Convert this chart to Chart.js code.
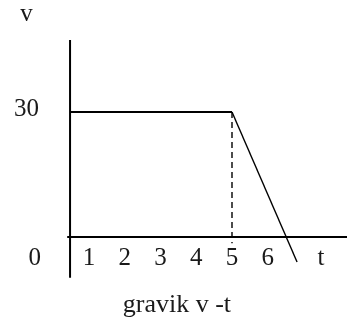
<!DOCTYPE html>
<html>
<head>
<meta charset="utf-8">
<script src="https://cdn.jsdelivr.net/npm/chart.js@4/dist/chart.umd.min.js"></script>
<style>
    html, body { margin: 0; padding: 0; background: #fff; }
    #wrap { width: 347px; height: 320px; position: relative; }
</style>
</head>
<body>
<div id="wrap"><canvas id="chart"></canvas></div>
<script>
// v-t graph: constant 30 until t=5, then decelerates through zero
const speedTimes = [0.47, 5, 6.82];
const speedValues = [30, 30, -6];

// dashed drop line at t = 5
const dropTimes = [5, 5];
const dropValues = [30, -1.5];

// the drawn axes (the vertical one sits a bit right of t = 0 in the sketch)
const yAxisTimes = [0.47, 0.47];
const yAxisValues = [47.3, -9.8];
const xAxisTimes = [0.39, 8.3];
const xAxisValues = [0, 0];

const xTickValues = [1, 2, 3, 4, 5, 6];
const xTickLabels = ['1', '2', '3', '4', '5', '6'];
const yTickValues = [30];
const yTickLabels = ['30'];

const originLabel = '0';
const xAxisLabel = 't';
const yAxisLabel = 'v';
const caption = 'gravik v -t';

function toPoints(xs, ys) {
    return xs.map((x, i) => ({ x: x, y: ys[i] }));
}

const FONT = "25px 'Liberation Serif', 'DejaVu Serif', serif";

const textPlugin = {
    id: 'sketchText',
    afterDraw(chart) {
        const ctx = chart.ctx;
        const xs = chart.scales.x;
        const ys = chart.scales.y;
        const rowY = ys.getPixelForValue(0) + 21;

        ctx.save();
        ctx.fillStyle = '#1a1a1a';
        ctx.font = FONT;
        ctx.textAlign = 'center';
        ctx.textBaseline = 'middle';

        xTickValues.forEach((t, i) => {
            ctx.fillText(xTickLabels[i], xs.getPixelForValue(t), rowY);
        });
        yTickValues.forEach((v, i) => {
            ctx.fillText(yTickLabels[i], xs.getPixelForValue(-0.75), ys.getPixelForValue(v) - 3);
        });

        ctx.fillText(originLabel, xs.getPixelForValue(-0.52), rowY);
        ctx.fillText(xAxisLabel, xs.getPixelForValue(7.49), rowY);
        ctx.fillText(yAxisLabel, xs.getPixelForValue(-0.75), ys.getPixelForValue(53.5));

        ctx.font = "26px 'Liberation Serif', 'DejaVu Serif', serif";
        ctx.fillText(caption, xs.getPixelForValue(3.46), ys.getPixelForValue(-16.3));
        ctx.restore();
    },
};

new Chart(document.getElementById('chart'), {
    type: 'scatter',
    data: {
        datasets: [
            {
                data: toPoints(yAxisTimes, yAxisValues),
                showLine: true,
                borderColor: '#000',
                borderWidth: 2,
            },
            {
                data: toPoints(xAxisTimes, xAxisValues),
                showLine: true,
                borderColor: '#000',
                borderWidth: 2,
            },
            {
                data: toPoints(speedTimes.slice(0, 2), speedValues.slice(0, 2)),
                showLine: true,
                borderColor: '#000',
                borderWidth: 2.2,
            },
            {
                data: toPoints(speedTimes.slice(1), speedValues.slice(1)),
                showLine: true,
                borderColor: '#000',
                borderWidth: 1.4,
            },
            {
                data: toPoints(dropTimes, dropValues),
                showLine: true,
                borderColor: '#000',
                borderWidth: 1.4,
                borderDash: [6, 4],
            },
        ],
    },
    options: {
        responsive: true,
        maintainAspectRatio: false,
        animation: false,
        layout: { padding: 0 },
        elements: {
            point: { radius: 0, hoverRadius: 0 },
            line: { tension: 0 },
        },
        plugins: {
            legend: { display: false },
            tooltip: { enabled: false },
        },
        scales: {
            x: { type: 'linear', display: false, min: -1.4895, max: 8.2168 },
            y: { type: 'linear', display: false, min: -19.92, max: 56.88 },
        },
    },
    plugins: [textPlugin],
});
</script>
</body>
</html>
